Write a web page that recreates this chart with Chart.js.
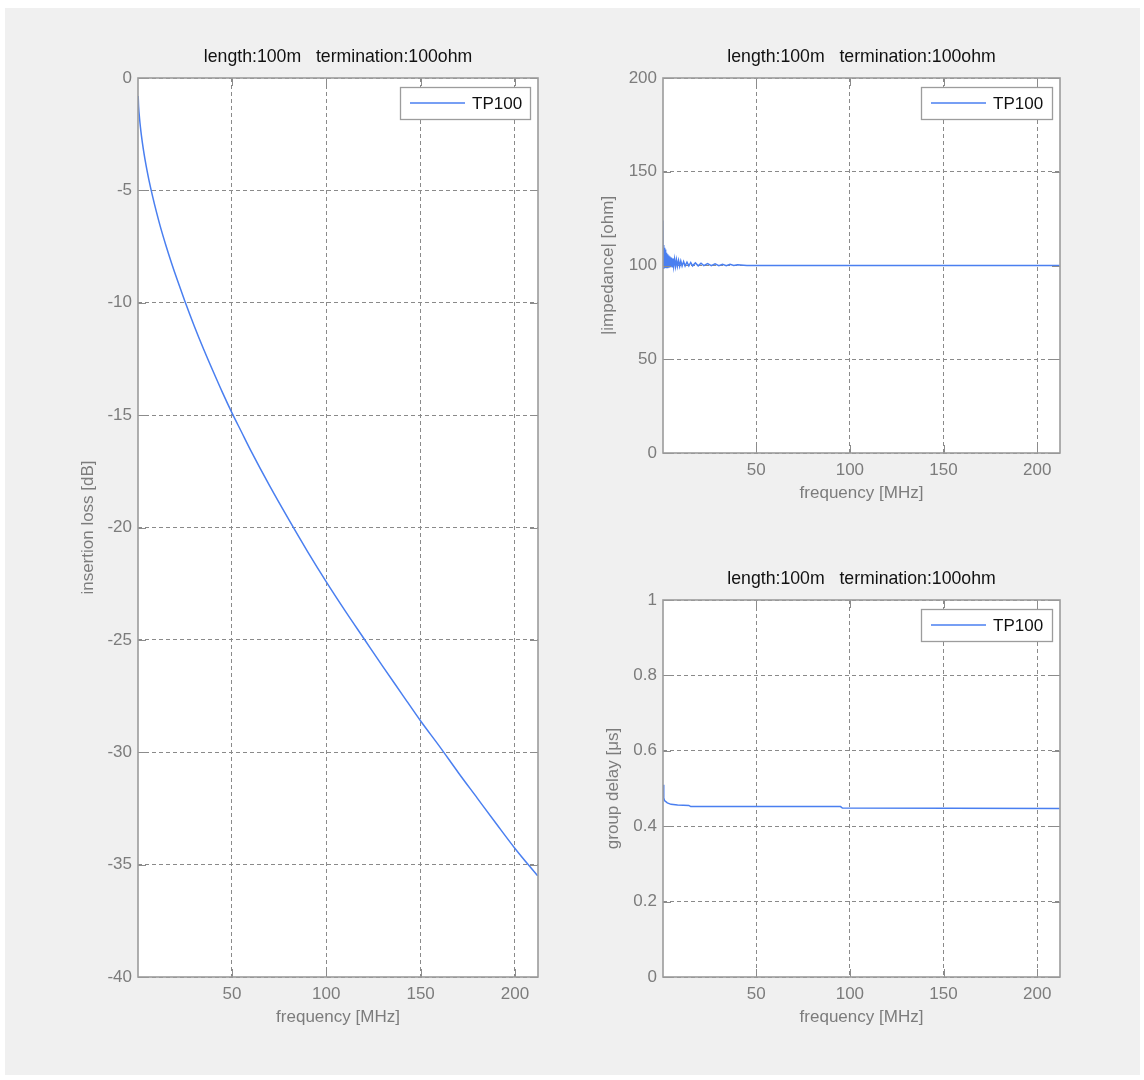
<!DOCTYPE html>
<html>
<head>
<meta charset="utf-8">
<script src="https://cdn.jsdelivr.net/npm/chart.js@4/dist/chart.umd.min.js"></script>
<style>
  html, body { margin: 0; padding: 0; background: #ffffff; }
  body { width: 1144px; height: 1080px; position: relative; overflow: hidden; }
  #panel { position: absolute; left: 5px; top: 8px; width: 1135px; height: 1067px; background: #f0f0f0; }
  canvas { position: absolute; }
</style>
</head>
<body>
<div id="panel"></div>
<canvas id="c1" width="572" height="1080" style="left:0;top:0"></canvas>
<canvas id="c2" width="572" height="540" style="left:572px;top:0"></canvas>
<canvas id="c3" width="572" height="540" style="left:572px;top:540px"></canvas>
<script>
// ---- data ----
const titleText = 'length:100m   termination:100ohm';
const seriesName = 'TP100';
const xTicks = [50, 100, 150, 200];

const lossFreq = [0.3, 0.5, 1, 1.5, 2, 3, 4, 5, 6, 8, 10, 12, 15, 18, 21, 25, 30, 35, 40, 45, 50, 55, 60, 70, 80, 90, 100, 110, 120, 130, 140, 150, 160, 170, 180, 190, 200, 212];
const lossDb   = [-0.8, -1.25, -1.78, -2.2, -2.55, -3.15, -3.66, -4.12, -4.54, -5.29, -5.97, -6.6, -7.45, -8.24, -8.98, -9.92, -11.03, -12.07, -13.05, -14.0, -14.9, -15.74, -16.58, -18.15, -19.63, -21.06, -22.42, -23.71, -24.95, -26.19, -27.4, -28.61, -29.74, -30.91, -32.04, -33.17, -34.28, -35.5];

const impFreq = [0.1, 0.3, 0.5, 0.7, 0.9, 1.1, 1.3, 1.5, 1.7, 1.9, 2.1, 2.4, 2.7, 3.0, 3.3, 3.6, 3.9, 4.3, 4.7, 5.1, 5.5, 5.9, 6.4, 6.9, 7.4, 7.9, 8.5, 9.1, 9.7, 10.4, 11.2, 12, 13, 14, 15, 16, 17.5, 19, 20.5, 22, 24, 26, 28, 30, 32, 34, 36, 38, 40, 45, 60, 100, 150, 212];
const impOhm  = [124, 98.5, 111, 98.5, 109.5, 98.7, 108.5, 98.8, 107.5, 99, 106.8, 99, 106, 99.2, 105.3, 99.3, 104.8, 99.4, 104.3, 99.4, 103.8, 99.5, 103.4, 99.5, 103, 99.6, 102.7, 99.6, 102.4, 99.7, 102.1, 99.7, 101.8, 99.8, 101.6, 99.8, 101.4, 99.8, 101.2, 99.9, 101, 99.9, 100.9, 99.9, 100.7, 99.9, 100.6, 100, 100.4, 100, 100, 100, 100, 100];

const delayFreq = [0.2, 0.6, 1.0, 2.5, 4.5, 8, 14, 15, 95, 96, 212];
const delayUs   = [0.51, 0.475, 0.468, 0.462, 0.458, 0.456, 0.455, 0.452, 0.452, 0.448, 0.447];

// ---- styling ----
const lineColor = '#4a7ff0';
const tickColor = '#7c7c7c';
const gridColor = '#8a8a8a';
Chart.defaults.font.family = "'Liberation Sans', Arial, sans-serif";
Chart.defaults.font.size = 17;
Chart.defaults.color = tickColor;

const framePlugin = {
  id: 'frame',
  beforeDraw(chart) {
    const a = chart.chartArea, ctx = chart.ctx;
    ctx.save();
    ctx.fillStyle = '#ffffff';
    ctx.fillRect(a.left, a.top, a.right - a.left, a.bottom - a.top);
    ctx.restore();
  },
  afterDatasetsDraw(chart, args, opts) {
    const a = chart.chartArea, ctx = chart.ctx;
    ctx.save();
    ctx.setLineDash([]);
    // inner tick marks on all four sides
    const tl = 8;
    ctx.strokeStyle = '#8c8c8c';
    ctx.lineWidth = 1;
    ctx.beginPath();
    chart.scales.x.ticks.forEach(t => {
      const px = Math.round(chart.scales.x.getPixelForValue(t.value)) + 0.5;
      ctx.moveTo(px, a.bottom); ctx.lineTo(px, a.bottom - tl);
      ctx.moveTo(px, a.top); ctx.lineTo(px, a.top + tl);
    });
    chart.scales.y.ticks.forEach(t => {
      const py = Math.round(chart.scales.y.getPixelForValue(t.value)) + 0.5;
      ctx.moveTo(a.left, py); ctx.lineTo(a.left + tl, py);
      ctx.moveTo(a.right, py); ctx.lineTo(a.right - tl, py);
    });
    ctx.stroke();
    // frame
    ctx.strokeStyle = '#9c9c9c';
    ctx.lineWidth = 1.6;
    ctx.strokeRect(a.left, a.top, a.right - a.left, a.bottom - a.top);
    // title
    ctx.fillStyle = '#111111';
    ctx.font = "17.7px 'Liberation Sans', Arial, sans-serif";
    ctx.textAlign = 'center';
    ctx.textBaseline = 'middle';
    ctx.fillText(opts.title, (a.left + a.right) / 2, a.top - 21);
    // legend
    const w = opts.legendW, h = 32;
    const bx = Math.round(a.right - 8 - w), by = Math.round(a.top + 9);
    ctx.fillStyle = '#ffffff';
    ctx.fillRect(bx, by, w, h);
    ctx.strokeStyle = '#9c9c9c';
    ctx.lineWidth = 1.3;
    ctx.strokeRect(bx + 0.5, by + 0.5, w, h);
    ctx.strokeStyle = lineColor;
    ctx.lineWidth = 1.6;
    ctx.beginPath();
    ctx.moveTo(bx + 10, by + 16);
    ctx.lineTo(bx + 65, by + 16);
    ctx.stroke();
    ctx.fillStyle = '#111111';
    ctx.font = "17px 'Liberation Sans', Arial, sans-serif";
    ctx.textAlign = 'left';
    ctx.fillText(opts.label, bx + 72, by + 17);
    ctx.restore();
  }
};

function fmt(v) { return String(Math.round(v * 100) / 100); }

function makeChart(id, xs, ys, cfg) {
  const pts = xs.map((x, i) => ({ x: x, y: ys[i] }));
  return new Chart(document.getElementById(id), {
    type: 'line',
    data: { datasets: [{ label: seriesName, data: pts, borderColor: lineColor, borderWidth: 1.5, pointRadius: 0,
      tension: 0, cubicInterpolationMode: cfg.smooth ? 'monotone' : 'default', fill: false }] },
    options: {
      responsive: false,
      animation: false,
      devicePixelRatio: 1,
      layout: { padding: { left: 0, top: cfg.top, right: cfg.right, bottom: 0 } },
      plugins: {
        legend: { display: false },
        tooltip: { enabled: false },
        title: { display: false },
        frame: { title: titleText, label: seriesName, legendW: cfg.legendW }
      },
      scales: {
        x: {
          type: 'linear', min: 0.2, max: 212.2,
          afterBuildTicks(s) { s.ticks = xTicks.map(v => ({ value: v })); },
          afterFit(s) { s.height = cfg.xH; },
          ticks: { padding: 7, color: tickColor, callback: fmt, maxRotation: 0 },
          grid: { color: gridColor, lineWidth: 1, drawTicks: false },
          border: { display: false, dash: [4, 3] },
          title: { display: true, text: 'frequency [MHz]', color: tickColor, padding: { top: 0, bottom: cfg.xTitlePad } }
        },
        y: {
          min: cfg.ymin, max: cfg.ymax,
          ticks: { stepSize: cfg.step, padding: 6, color: tickColor, callback: fmt },
          afterFit(s) { s.width = cfg.yW; },
          grid: { color: gridColor, lineWidth: 1, drawTicks: false },
          border: { display: false, dash: [4, 3] },
          title: { display: true, text: cfg.yTitle, color: tickColor, padding: { top: cfg.yTitlePad, bottom: 0 } }
        }
      }
    },
    plugins: [framePlugin]
  });
}

makeChart('c1', lossFreq, lossDb, {
  top: 78, right: 34, xH: 103, yW: 138, xTitlePad: 52, yTitlePad: 78, smooth: true,
  ymin: -40, ymax: 0, step: 5, yTitle: 'insertion loss [dB]', legendW: 130
});
makeChart('c2', impFreq, impOhm, {
  top: 78, right: 84, xH: 87, yW: 91, xTitlePad: 36, yTitlePad: 26, smooth: false,
  ymin: 0, ymax: 200, step: 50, yTitle: '|impedance| [ohm]', legendW: 131
});
makeChart('c3', delayFreq, delayUs, {
  top: 60, right: 84, xH: 103, yW: 91, xTitlePad: 52, yTitlePad: 31, smooth: false,
  ymin: 0, ymax: 1, step: 0.2, yTitle: 'group delay [\u03bcs]', legendW: 131
});
</script>
</body>
</html>
